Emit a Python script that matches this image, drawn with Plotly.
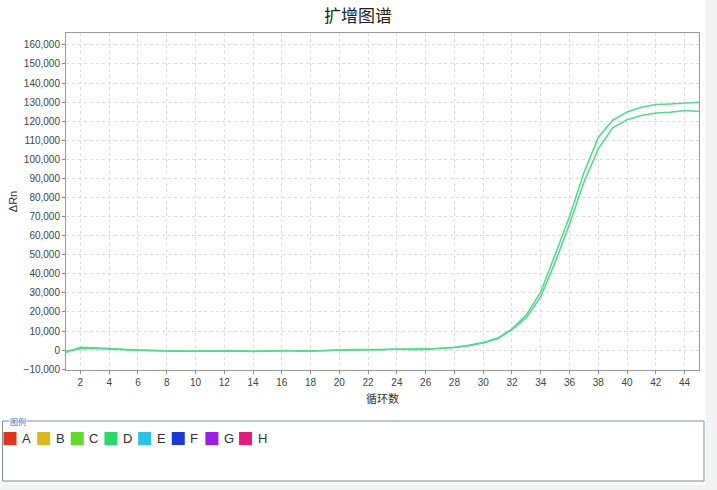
import plotly.graph_objects as go

# ---- data ----
cycles = list(range(1, 46))
well_upper = [-1200, 1500, 1200, 700, 500, 100, -200, -500, -600, -600,
              -500, -300, -500, -700, -400, -300, -300, -400, -300, 0,
              200, 300, 200, 600, 300, 400, 1000, 1500, 2500, 4000,
              6300, 11000, 18500, 30500, 50000, 70000, 93000, 111500, 120500, 124800,
              127300, 128700, 129000, 129400, 129900]
well_lower = [-600, 800, 900, 400, 200, -100, -300, -500, -500, -500,
              -400, -200, -400, -600, -300, -200, -400, -500, -200, 100,
              300, 200, 300, 500, 400, 500, 900, 1400, 2300, 3700,
              6000, 10800, 17000, 28000, 46000, 66000, 88000, 105500, 116500, 120700,
              123000, 124300, 124700, 125600, 125100]
legend_labels = ["A", "B", "C", "D", "E", "F", "G", "H"]
legend_colors = ["#e0341c", "#d8b820", "#62d92b", "#2cd86e", "#2ec0e6", "#2038d8", "#9a1fe6", "#e01e82"]
x_ticks = list(range(2, 46, 2))
y_ticks = list(range(-10000, 160001, 10000))

# ---- geometry (page px) ----
W, H = 717, 490
L, R, T, B = 66, 699, 33, 370          # plot area
pw, ph = R - L, B - T


def px(x):
    return (x - L) / pw


def py(y):
    return (B - y) / ph


fig = go.Figure()
line_color = "#58d78f"
for name, vals in [("D1", well_upper), ("D2", well_lower)]:
    fig.add_trace(go.Scatter(x=cycles, y=vals, mode="lines", name=name,
                             line=dict(color=line_color, width=1.6),
                             showlegend=False, hoverinfo="x+y"))

axis_font = dict(family="Liberation Sans, Arial, sans-serif", size=10, color="#444")

fig.update_layout(
    width=W, height=H,
    margin=dict(l=L, r=W - R, t=T, b=H - B),
    paper_bgcolor="white", plot_bgcolor="white",
    title=dict(text="扩增图谱", x=px(358), xref="paper", xanchor="center",
               y=1 - 16 / H, yanchor="middle",
               font=dict(family="Noto Sans CJK SC", size=17, color="#222")),
    xaxis=dict(range=[1, 45], tickvals=x_ticks, ticks="outside", ticklen=3,
               tickcolor="#888", tickfont=axis_font,
               showgrid=True, gridcolor="#dcdcdc", griddash="dot", gridwidth=1,
               showline=True, linecolor="#9a9a9a", linewidth=1, mirror=True,
               zeroline=False, automargin=False,
               title=dict(text="循环数", standoff=8,
                          font=dict(family="Noto Sans CJK SC", size=11, color="#333"))),
    yaxis=dict(range=[-10400, 166200], tickvals=y_ticks, tickformat=",",
               ticks="outside", ticklen=3, tickcolor="#888", tickfont=axis_font,
               showgrid=True, gridcolor="#dcdcdc", griddash="dot", gridwidth=1,
               showline=True, linecolor="#9a9a9a", linewidth=1, mirror=True,
               zeroline=False, automargin=False,
               title=dict(text="ΔRn", standoff=3,
                          font=dict(family="Liberation Sans, Arial, sans-serif", size=11, color="#333"))),
)

shapes = []
annotations = []
# light grey side strips
shapes.append(dict(type="rect", xref="paper", yref="paper", layer="below",
                   x0=px(706), x1=px(W + 2), y0=py(H + 2), y1=py(-2),
                   fillcolor="#f1f3f5", line=dict(width=0)))
shapes.append(dict(type="rect", xref="paper", yref="paper", layer="below",
                   x0=px(-2), x1=px(706), y0=py(H + 2), y1=py(485),
                   fillcolor="#f1f3f5", line=dict(width=0)))
# legend box
shapes.append(dict(type="rect", xref="paper", yref="paper",
                   x0=px(2.5), x1=px(704), y0=py(481), y1=py(421),
                   line=dict(color="#7d8c99", width=1), fillcolor="rgba(0,0,0,0)"))
annotations.append(dict(text="图例", xref="paper", yref="paper",
                        x=px(9), y=py(421), xanchor="left", yanchor="middle",
                        showarrow=False, bgcolor="white", borderpad=0,
                        font=dict(family="Noto Sans CJK SC", size=8, color="#3a6fc0")))
for i, (lab, col) in enumerate(zip(legend_labels, legend_colors)):
    x0 = 3.5 + 33.65 * i
    shapes.append(dict(type="rect", xref="paper", yref="paper",
                       x0=px(x0), x1=px(x0 + 13), y0=py(445), y1=py(432),
                       fillcolor=col, line=dict(width=0)))
    annotations.append(dict(text=lab, xref="paper", yref="paper",
                            x=px(x0 + 16.5), y=py(438.5), xanchor="left", yanchor="middle",
                            showarrow=False,
                            font=dict(family="Liberation Sans, Arial, sans-serif", size=13, color="#333")))

fig.update_layout(shapes=shapes, annotations=annotations)
fig.write_html("out.html",
               config={"displayModeBar": False},
               post_script="document.body.style.margin='0';document.body.style.padding='0';")
